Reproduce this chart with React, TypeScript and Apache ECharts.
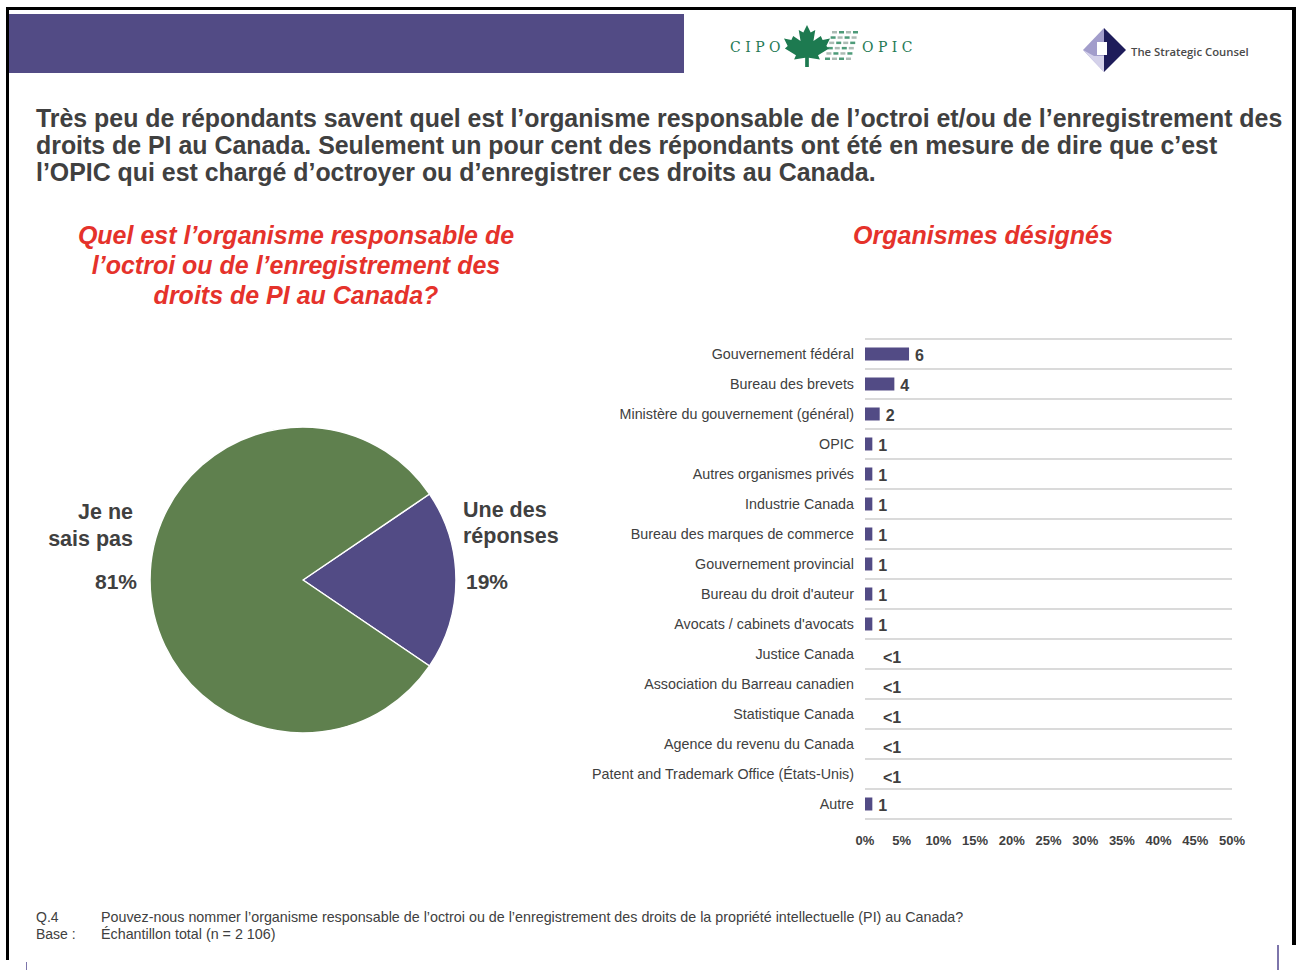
import React, { useEffect, useRef } from "react";
import * as echarts from "echarts";

const titleLines = [
  "Très peu de répondants savent quel est l’organisme responsable de l’octroi et/ou de l’enregistrement des",
  "droits de PI au Canada. Seulement un pour cent des répondants ont été en mesure de dire que c’est",
  "l’OPIC qui est chargé d’octroyer ou d’enregistrer ces droits au Canada.",
];
const pieTitle = "Quel est l’organisme responsable de\nl’octroi ou de l’enregistrement des\ndroits de PI au Canada?";
const barTitle = "Organismes désignés";

const pieNames = ["Une des\nréponses", "Je ne\nsais pas"];
const pieValues = [19, 81];

const categories = [
  "Gouvernement fédéral",
  "Bureau des brevets",
  "Ministère du gouvernement (général)",
  "OPIC",
  "Autres organismes privés",
  "Industrie Canada",
  "Bureau des marques de commerce",
  "Gouvernement provincial",
  "Bureau du droit d'auteur",
  "Avocats / cabinets d'avocats",
  "Justice Canada",
  "Association du Barreau canadien",
  "Statistique Canada",
  "Agence du revenu du Canada",
  "Patent and Trademark Office (États-Unis)",
  "Autre",
];
const values = [6, 4, 2, 1, 1, 1, 1, 1, 1, 1, 0.4, 0.4, 0.4, 0.4, 0.4, 1];
const valueLabels = ["6", "4", "2", "1", "1", "1", "1", "1", "1", "1", "<1", "<1", "<1", "<1", "<1", "1"];

const footQ = ["Q.4", "Pouvez-nous nommer l’organisme responsable de l’octroi ou de l’enregistrement des droits de la propriété intellectuelle (PI) au Canada?"];
const footBase = ["Base :", "Échantillon total (n = 2 106)"];

const PURPLE = "#524b85";
const GREEN = "#5f804e";
const RED = "#e5322b";
const TEXT = "#404040";
const FONT = "'Liberation Sans', Arial, sans-serif";

const MAPLE =
  "M50 0 L58 18 L68 12 L64 38 L80 26 L84 36 L100 32 L92 50 L98 56 L74 72 L78 82 L54 78 L54 100 L46 100 L46 78 L22 82 L26 72 L2 56 L8 50 L0 32 L16 36 L20 26 L36 38 L32 12 L42 18 Z";
echarts.graphic.registerShape("mapleleaf", echarts.graphic.extendPath(MAPLE, {}) as any);

export default function App() {
  const ref = useRef<HTMLDivElement>(null);
  useEffect(() => {
    if (!ref.current) return;
    const chart = echarts.init(ref.current, null, { renderer: "svg" });

    const pieCx = 303;
    const pieCy = 580;

    const hatch: any[] = [];
    for (let r = 0; r < 6; r++) {
      for (let c = 0; c < 4; c++) {
        hatch.push({
          type: "rect",
          shape: { x: 825 + c * 7 + (5 - r) * 1.4, y: 31 + r * 5.3, width: 5, height: 2.5 },
          style: { fill: (r + c) % 2 === 0 ? "#9fb0a8" : "#2f8a62", opacity: 0.85 },
          silent: true,
        });
      }
    }

    const graphics: any[] = [
      // borders
      { type: "rect", shape: { x: 6, y: 7, width: 1290, height: 3 }, style: { fill: "#000" } },
      { type: "rect", shape: { x: 6, y: 7, width: 3, height: 953 }, style: { fill: "#000" } },
      { type: "rect", shape: { x: 1292, y: 7, width: 4, height: 938 }, style: { fill: "#000" } },
      { type: "rect", shape: { x: 1277, y: 945, width: 2, height: 25 }, style: { fill: "#7d75ab" } },
      { type: "rect", shape: { x: 26, y: 962, width: 1, height: 8 }, style: { fill: "#7d75ab" } },
      // header band
      { type: "rect", shape: { x: 9, y: 14, width: 675, height: 59 }, style: { fill: PURPLE } },
      // CIPO logo
      {
        type: "text",
        x: 730,
        y: 47,
        style: { text: "C I P O", font: "14px 'DejaVu Serif', serif", fill: "#1f7a55", textVerticalAlign: "middle" },
      },
      ...hatch,
      { type: "mapleleaf", x: 784, y: 25, scaleX: 0.46, scaleY: 0.42, style: { fill: "#1d7a50" } },
      {
        type: "text",
        x: 862,
        y: 47,
        style: { text: "O P I C", font: "14px 'DejaVu Serif', serif", fill: "#1f7a55", textVerticalAlign: "middle" },
      },
      // Strategic counsel logo
      { type: "polygon", shape: { points: [[1104, 28], [1083, 50], [1104, 72]] }, style: { fill: "#a29dcb" } },
      { type: "polygon", shape: { points: [[1104, 28], [1126, 50], [1104, 72]] }, style: { fill: "#1e1c5a" } },
      { type: "polygon", shape: { points: [[1083, 50], [1104, 72], [1104, 56], [1094, 56]] }, style: { fill: "#d4d1ea" } },
      { type: "rect", shape: { x: 1097, y: 42, width: 10, height: 13 }, style: { fill: "#ffffff" } },
      {
        type: "text",
        x: 1131,
        y: 51,
        style: {
          text: "The Strategic Counsel",
          font: "600 11.3px 'Open Sans', sans-serif",
          fill: "#4a4a4a",
          textVerticalAlign: "middle",
        },
      },
      // main title
      ...titleLines.map((t, i) => ({
        type: "text",
        x: 36,
        y: 118 + i * 27,
        style: { text: t, font: `bold 24.9px ${FONT}`, fill: TEXT, textVerticalAlign: "middle" },
      })),
      // sub titles
      {
        type: "text",
        x: 296,
        y: 220,
        style: {
          text: pieTitle,
          font: `italic bold 25px ${FONT}`,
          fill: RED,
          textAlign: "center",
          textVerticalAlign: "top",
          lineHeight: 30,
        },
      },
      {
        type: "text",
        x: 983,
        y: 235,
        style: {
          text: barTitle,
          font: `italic bold 25px ${FONT}`,
          fill: RED,
          textAlign: "center",
          textVerticalAlign: "middle",
        },
      },
      // pie labels
      {
        type: "text",
        x: 463,
        y: 523,
        style: { text: pieNames[0], font: `bold 21.5px ${FONT}`, fill: TEXT, textVerticalAlign: "middle", lineHeight: 26 },
      },
      {
        type: "text",
        x: 466,
        y: 581,
        style: { text: pieValues[0] + "%", font: `bold 21px ${FONT}`, fill: TEXT, textVerticalAlign: "middle" },
      },
      {
        type: "text",
        x: 133,
        y: 525,
        style: {
          text: pieNames[1],
          font: `bold 21.5px ${FONT}`,
          fill: TEXT,
          textAlign: "right",
          textVerticalAlign: "middle",
          lineHeight: 27,
        },
      },
      {
        type: "text",
        x: 137,
        y: 581,
        style: { text: pieValues[1] + "%", font: `bold 21px ${FONT}`, fill: TEXT, textAlign: "right", textVerticalAlign: "middle" },
      },
      // footer
      { type: "text", x: 36, y: 917, style: { text: footQ[0], font: `14px ${FONT}`, fill: TEXT, textVerticalAlign: "middle" } },
      { type: "text", x: 101, y: 917, style: { text: footQ[1], font: `14.3px ${FONT}`, fill: TEXT, textVerticalAlign: "middle" } },
      { type: "text", x: 36, y: 934, style: { text: footBase[0], font: `14px ${FONT}`, fill: TEXT, textVerticalAlign: "middle" } },
      { type: "text", x: 101, y: 934, style: { text: footBase[1], font: `14.3px ${FONT}`, fill: TEXT, textVerticalAlign: "middle" } },
    ];

    chart.setOption({
      animation: false,
      backgroundColor: "#ffffff",
      grid: { left: 865, top: 339, width: 367, height: 480, containLabel: false },
      xAxis: {
        type: "value",
        min: 0,
        max: 50,
        interval: 5,
        axisLine: { show: false },
        axisTick: { show: false },
        splitLine: { show: false },
        axisLabel: {
          formatter: "{value}%",
          fontFamily: FONT,
          fontWeight: "bold",
          fontSize: 13,
          color: TEXT,
          margin: 15,
        },
      },
      yAxis: {
        type: "category",
        data: categories,
        inverse: true,
        axisLine: { show: false },
        axisTick: { show: false },
        splitLine: { show: true, lineStyle: { color: "#dadada", width: 2 } },
        axisLabel: { fontFamily: FONT, fontSize: 14.3, color: TEXT, margin: 11 },
      },
      series: [
        {
          type: "bar",
          barWidth: 13,
          data: values.map((v, i) => ({
            value: v,
            itemStyle: { color: valueLabels[i] === "<1" ? "rgba(0,0,0,0)" : PURPLE },
            label: {
              show: true,
              position: "right",
              distance: valueLabels[i] === "<1" ? 15 : 6,
              offset: valueLabels[i] === "<1" ? [0, 3] : [0, 1],
              formatter: valueLabels[i],
              fontFamily: FONT,
              fontWeight: "bold",
              fontSize: 16,
              color: TEXT,
            },
          })),
        },
        {
          type: "pie",
          center: [pieCx, pieCy],
          radius: 153,
          startAngle: 34.2,
          clockwise: true,
          label: { show: false },
          labelLine: { show: false },
          itemStyle: { borderColor: "#ffffff", borderWidth: 1.5 },
          data: [
            { value: pieValues[0], name: pieNames[0], itemStyle: { color: PURPLE } },
            { value: pieValues[1], name: pieNames[1], itemStyle: { color: GREEN } },
          ],
        },
      ],
      graphic: graphics,
    });
    return () => chart.dispose();
  }, []);

  return <div ref={ref} style={{ position: "fixed", left: 0, top: 0, width: 1297, height: 970 }} />;
}
